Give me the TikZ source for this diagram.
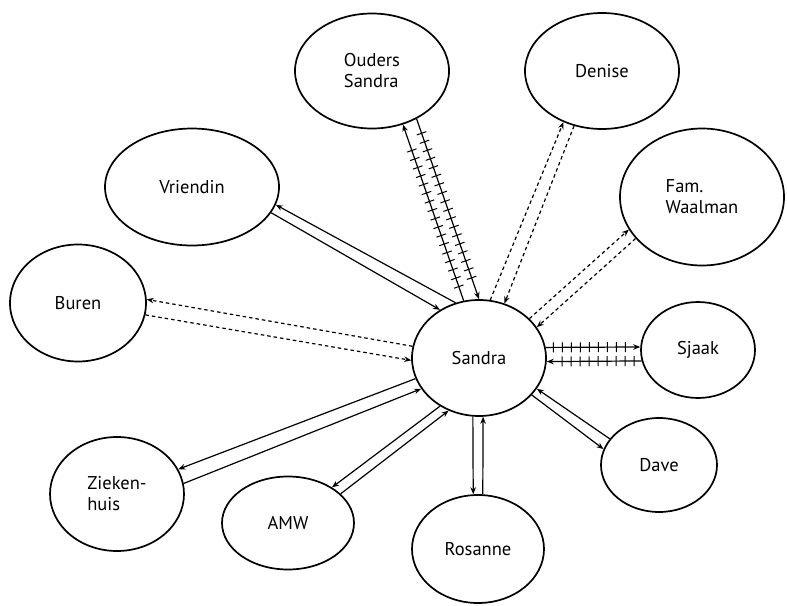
\documentclass[tikz,border=0pt]{standalone}
\usepackage{fontspec}
\setmainfont{PT Sans}
\usetikzlibrary{shapes.geometric, arrows.meta, decorations.markings}

\begin{document}
\begin{tikzpicture}[
    x=1pt, y=-1pt,
    person/.style={ellipse, draw, line width=1.7pt, inner sep=0pt, align=left, font=\fontsize{18.5}{21}\selectfont},
    link/.style={-{Stealth[length=7pt, width=5.5pt]}, line width=1.2pt},
    dashlink/.style={link, dash pattern=on 3.5pt off 3pt},
    conflict/.style={link, postaction={decorate, decoration={markings,
        mark=between positions 0.08 and 0.9 step 9pt with {\draw[-, solid, line width=1pt] (0,-5pt) -- (0,5pt);}}}}
]
\useasboundingbox (0,0) rectangle (787,605);

\node[person, minimum width=134pt, minimum height=116pt] (sandra) at (479,358) {Sandra};
\node[person, minimum width=154pt, minimum height=115pt] (ouders) at (372,71) {Ouders\\Sandra};
\node[person, minimum width=154pt, minimum height=116pt] (denise) at (602,71) {Denise};
\node[person, minimum width=164pt, minimum height=137pt] (waalman) at (702,197) {Fam.\\Waalman};
\node[person, minimum width=174pt, minimum height=117pt] (vriendin) at (192,187) {Vriendin};
\node[person, minimum width=136pt, minimum height=117pt] (buren) at (78,303) {Buren};
\node[person, minimum width=114pt, minimum height=96pt] (sjaak) at (698,350) {Sjaak};
\node[person, minimum width=116pt, minimum height=94pt] (dave) at (659,465) {Dave};
\node[person, minimum width=132pt, minimum height=108pt] (rosanne) at (478,549) {Rosanne};
\node[person, minimum width=132pt, minimum height=93pt] (amw) at (288,523) {AMW};
\node[person, minimum width=134pt, minimum height=114pt] (zieken) at (117,494) {Zieken-\\huis};

% ouders
\draw[conflict] (sandra.105) -- (ouders.300);
\draw[conflict] (ouders.313) -- (sandra.90);
% denise
\draw[dashlink] (sandra.79) -- (denise.233);
\draw[dashlink] (denise.243) -- (sandra.65);
% fam. waalman
\draw[dashlink] (sandra.38) -- (waalman.204);
\draw[dashlink] (waalman.212) -- (sandra.28);
% sjaak
\draw[conflict] (sandra.9) -- (sjaak.177);
\draw[conflict] (sjaak.191) -- (sandra.357);
% dave
\draw[link] (dave.152) -- (sandra.332);
\draw[link] (sandra.325) -- (dave.164);
% rosanne
\draw[link] (sandra.264) -- (rosanne.95);
\draw[link] (rosanne.85) -- (sandra.274);
% amw
\draw[link] (sandra.231) -- (amw.39);
\draw[link] (amw.29) -- (sandra.240);
% ziekenhuis
\draw[link] (sandra.198) -- (zieken.22);
\draw[link] (zieken.9) -- (sandra.208);
% buren
\draw[dashlink] (sandra.170) -- (buren.3);
\draw[dashlink] (buren.350) -- (sandra.182);
% vriendin
\draw[link] (sandra.113) -- (vriendin.348);
\draw[link] (vriendin.342) -- (sandra.129);

\end{tikzpicture}
\end{document}
